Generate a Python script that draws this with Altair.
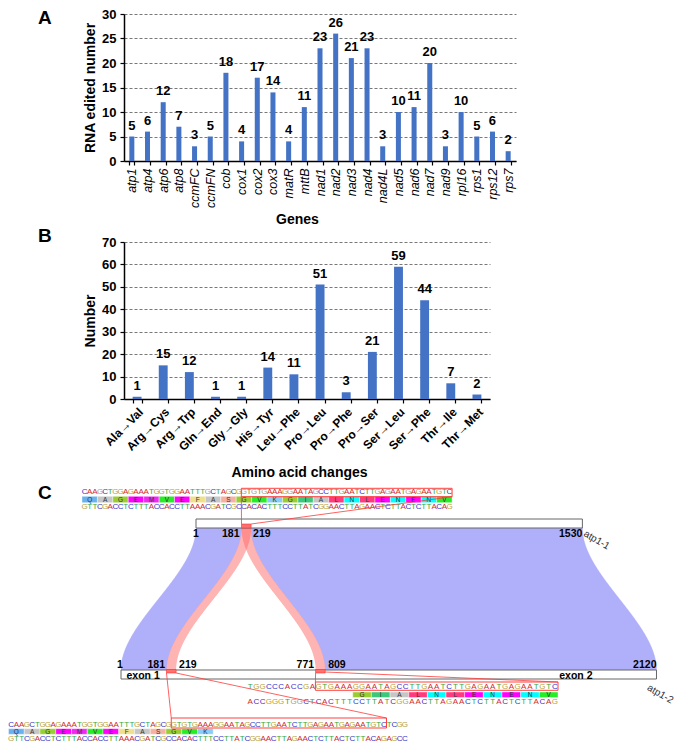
import altair as alt
import pandas as pd
import numpy as np

FONT = "Liberation Sans"
BAR = "#4472C4"

# ---------------- data ----------------
genes = ["atp1", "atp4", "atp6", "atp8", "ccmFC", "ccmFN", "cob", "cox1", "cox2", "cox3",
         "matR", "mttB", "nad1", "nad2", "nad3", "nad4", "nad4L", "nad5", "nad6", "nad7",
         "nad9", "rpl16", "rps1", "rps12", "rps7"]
gene_counts = [5, 6, 12, 7, 3, 5, 18, 4, 17, 14, 4, 11, 23, 26, 21, 23, 3, 10, 11, 20, 3, 10, 5, 6, 2]

aa_changes = ["Ala→Val", "Arg→Cys", "Arg→Trp", "Gln→End", "Gly→Gly", "His→Tyr", "Leu→Phe",
              "Pro→Leu", "Pro→Phe", "Pro→Ser", "Ser→Leu", "Ser→Phe", "Thr→Ile", "Thr→Met"]
aa_counts = [1, 15, 12, 1, 1, 14, 11, 51, 3, 21, 59, 44, 7, 2]

# panel C: transcripts and aligned blocks (bp)
top_len = 1530          # atp1-1
bot_len = 2120          # atp1-2
link_top_start = [1, 219, 181, 181]
link_top_end = [181, 1530, 219, 219]
link_bot_start = [1, 809, 181, 771]
link_bot_end = [181, 2120, 219, 809]
link_kind = ["match", "match", "edit", "edit"]

seq1 = "CAAGCTGGAGAAATGGTGGAATTTGCTAGCGGTGTGAAAGGAATAGCCTTGAATCTTGAGAATGAGAATGTC"
comp1 = "GTTCGACCTCTTTACCACCTTAAACGATCGCCACACTTTCCTTATCGGAACTTAGAACTCTTACTCTTACAG"
aa1 = "QAGEMVEFASGVKGIALNLENENV"
seq2 = "TGGCCCACCGAGTGAAAGGAATAGCCTTGAATCTTGAGAATGAGAATGTC"
comp2 = "ACCGGGTGGCTCACTTTCCTTATCGGAACTTAGAACTCTTACTCTTACAG"
aa2 = "GIALNLENENV"
seq3 = "CAAGCTGGAGAAATGGTGGAATTTGCTAGCGGTGTGAAAGGAATAGCCTTGAATCTTGAGAATGAGAATGTCTCGG"
comp3 = "GTTCGACCTCTTTACCACCTTAAACGATCGCCACACTTTCCTTATCGGAACTTAGAACTCTTACTCTTACAGAGCC"
aa3 = "QAGEMVEFASGVK"

nuc_domain = ["A", "C", "G", "T"]
nuc_colors = ["#D02A2A", "#3535C8", "#B9A13A", "#36A843"]
aa_domain = ["Q", "A", "G", "E", "M", "V", "F", "S", "K", "I", "L", "N"]
aa_colors = ["#6AB2EE", "#C6C6C6", "#9ACD32", "#FF00FF", "#F028F0", "#26EE26",
             "#EEE08C", "#F7B1A2", "#8ACCF8", "#3CC87A", "#FF3B7F", "#00FFFF"]

LEFT = 116   # room left of the bar-chart plot areas


def one():
    return alt.Data(values=[{"k": 1}])


def panel_letter(letter, y):
    return alt.Chart(one()).mark_text(
        text=letter, font=FONT, fontSize=19, fontWeight="bold", align="left",
        baseline="top", color="black").encode(x=alt.value(-86), y=alt.value(y))


def bounds_box(y0, y1):
    # invisible frame that fixes each panel's extent in the stacked layout
    return alt.Chart(one()).mark_rect(opacity=0).encode(
        x=alt.value(-LEFT), x2=alt.value(553), y=alt.value(y0), y2=alt.value(y1))


def y_axis(title, values):
    return alt.Axis(
        title=title, values=values, grid=True, gridDash=[3, 2], gridColor="#555555",
        gridWidth=0.8, domainColor="black", domainWidth=1.5, tickColor="black",
        tickSize=4, tickWidth=1.2, labelFont=FONT, labelFontWeight="bold",
        labelFontSize=13, labelColor="black", labelPadding=4, titleFont=FONT,
        titleFontSize=14, titleFontWeight="bold", titleColor="black", titlePadding=4)


# ---------------- panel A ----------------
W_A, H_A = 392, 147
dfA = pd.DataFrame({"gene": genes, "n": gene_counts})
xA = alt.X("gene:N", sort=genes,
           scale=alt.Scale(paddingInner=0.68, paddingOuter=0.34),
           axis=alt.Axis(title="Genes", labelAngle=-90, labelAlign="right",
                         labelBaseline="middle", labelFont=FONT, labelFontStyle="italic",
                         labelFontSize=12.5, labelColor="black", labelPadding=3,
                         tickBand="extent", tickSize=4, tickColor="black", tickWidth=1.2,
                         domainColor="black", domainWidth=1.5, titleFont=FONT,
                         titleFontSize=14, titleFontWeight="bold", titleColor="black",
                         titleX=173, titleY=58, titleBaseline="middle"))
yA = alt.Y("n:Q", scale=alt.Scale(domain=[0, 30], nice=False),
           axis=y_axis("RNA edited number", [0, 5, 10, 15, 20, 25, 30]))
baseA = alt.Chart(dfA).encode(x=xA, y=yA)
barsA = baseA.mark_bar(color=BAR)
textA = baseA.mark_text(font=FONT, fontSize=13, fontWeight="bold", color="black",
                        baseline="alphabetic", dy=-7).encode(text="n:Q")
chartA = alt.layer(bounds_box(-5, 213), barsA, textA, panel_letter("A", -5)).properties(
    width=W_A, height=H_A)

# ---------------- panel B ----------------
W_B, H_B = 366, 157
dfB = pd.DataFrame({"change": aa_changes, "n": aa_counts})
xB = alt.X("change:N", sort=aa_changes,
           scale=alt.Scale(paddingInner=0.66, paddingOuter=0.33),
           axis=alt.Axis(title="Amino acid changes", labelAngle=-45, labelFont=FONT,
                         labelFontWeight="bold", labelFontSize=12, labelColor="black",
                         labelPadding=3, tickBand="extent", tickSize=4, tickColor="black",
                         tickWidth=1.2, domainColor="black", domainWidth=1.5,
                         titleFont=FONT, titleFontSize=14, titleFontWeight="bold",
                         titleColor="black", titleX=175, titleY=73, titleBaseline="middle"))
yB = alt.Y("n:Q", scale=alt.Scale(domain=[0, 70], nice=False),
           axis=y_axis("Number", [0, 10, 20, 30, 40, 50, 60, 70]))
baseB = alt.Chart(dfB).encode(x=xB, y=yB)
barsB = baseB.mark_bar(color=BAR)
textB = baseB.mark_text(font=FONT, fontSize=13, fontWeight="bold", color="black",
                        baseline="alphabetic", dy=-7).encode(text="n:Q")
chartB = alt.layer(bounds_box(-15, 239), barsB, textB, panel_letter("B", -15)).properties(
    width=W_B, height=H_B)

# ---------------- panel C ----------------
# diagram units: 1 unit = 1 px, 0 = left edge of the figure area
CW, CH = 669, 265
PX = 0.2527            # diagram units per bp
TOP_X0, BOT_X0 = 188, 113
TOP_BAR = (38, 47)
BOT_BAR = (189, 198)


def top_px(bp):
    return TOP_X0 + (bp - 1) * PX


def bot_px(bp):
    return BOT_X0 + (bp - 1) * PX


xs = alt.Scale(domain=[LEFT, CW], nice=False, zero=False)
ys = alt.Scale(domain=[0, CH], nice=False, zero=False, reverse=True)
XC = lambda f="x": alt.X(f"{f}:Q", scale=xs, axis=None)
YC = lambda f="y": alt.Y(f"{f}:Q", scale=ys, axis=None)

# ribbons drawn as thin horizontal slices
NS = 142
edges = np.linspace(0, 1, NS + 1)
rib = []
for k in range(len(link_kind)):
    xl0, xr0 = top_px(link_top_start[k]), top_px(link_top_end[k])
    xl1, xr1 = bot_px(link_bot_start[k]), bot_px(link_bot_end[k])
    for j in range(NS):
        tm = (edges[j] + edges[j + 1]) / 2
        sm = 3 * tm ** 2 - 2 * tm ** 3
        rib.append({"id": k, "kind": link_kind[k],
                    "y": TOP_BAR[1] + (BOT_BAR[0] - TOP_BAR[1]) * edges[j],
                    "y2": TOP_BAR[1] + (BOT_BAR[0] - TOP_BAR[1]) * edges[j + 1],
                    "xl": xl0 + (xl1 - xl0) * sm, "xr": xr0 + (xr1 - xr0) * sm})
rib = pd.DataFrame(rib)
blue = alt.Chart(rib[rib.kind == "match"]).mark_rect(
    color="#B0B0FA", opacity=1, stroke="#B0B0FA", strokeWidth=0.3).encode(
    y=YC("y"), y2=alt.Y2("y2:Q"), x=XC("xl"), x2=alt.X2("xr:Q"))
red = alt.Chart(rib[rib.kind == "edit"]).mark_rect(
    color="#FF6A6A", opacity=0.5).encode(
    y=YC("y"), y2=alt.Y2("y2:Q"), x=XC("xl"), x2=alt.X2("xr:Q"))

# transcript bars
bars = pd.DataFrame({
    "x": [top_px(1), bot_px(1)], "x2": [top_px(top_len), bot_px(bot_len)],
    "y": [TOP_BAR[0], BOT_BAR[0]], "y2": [TOP_BAR[1], BOT_BAR[1]]})
tbars = alt.Chart(bars).mark_rect(fill="white", stroke="#666666", strokeWidth=1).encode(
    x=XC("x"), x2=alt.X2("x2:Q"), y=YC("y"), y2=alt.Y2("y2:Q"))

hl = pd.DataFrame({
    "x": [top_px(181), bot_px(181), bot_px(771)],
    "x2": [top_px(219), bot_px(219), bot_px(809)],
    "y": [43, 188.5, 188.5], "y2": [47, 192, 192]})
hlm = alt.Chart(hl).mark_rect(fill="#FF7070", stroke="#FF3030", strokeWidth=0.6).encode(
    x=XC("x"), x2=alt.X2("x2:Q"), y=YC("y"), y2=alt.Y2("y2:Q"))

# sequence rows
rows = [
    (seq1, comp1, aa1, 0, 74, 5.14, 11, (15.3, 21.7), 26.2, 31, 72, (7.3, 15.7)),
    (seq2, comp2, aa2, 17, 239, 6.22, 205.5, (211, 216.5), 220.5, 11, 50, (201, 209.3)),
    (seq3, comp3, aa3, 0, 0.5, 5.25, 243.7, (247.7, 253.3), 258.2, 31, 72, (237, 247)),
]
letters, boxes, redboxes = [], [], []
for seq, comp, aa, a0, x0, step, yd, yb, yc, b0, b1, by in rows:
    for i, ch in enumerate(seq):
        letters.append({"x": x0 + (i + 0.5) * step, "y": yd, "ch": ch})
    for i, ch in enumerate(comp):
        letters.append({"x": x0 + (i + 0.5) * step, "y": yc, "ch": ch})
    for i, ch in enumerate(aa):
        xa = x0 + (a0 + 3 * i) * step
        boxes.append({"x": xa, "x2": xa + 3 * step, "xc": xa + 1.5 * step,
                      "y": yb[0], "y2": yb[1], "yc": (yb[0] + yb[1]) / 2, "aa": ch})
    redboxes.append({"x": x0 + b0 * step, "x2": x0 + b1 * step, "y": by[0], "y2": by[1]})
letters = pd.DataFrame(letters)
boxes = pd.DataFrame(boxes)
redboxes = pd.DataFrame(redboxes)

lettm = alt.Chart(letters).mark_text(font=FONT, fontSize=8, baseline="middle").encode(
    x=XC("x"), y=YC("y"), text="ch:N",
    color=alt.Color("ch:N", scale=alt.Scale(domain=nuc_domain, range=nuc_colors), legend=None))
boxm = alt.Chart(boxes).mark_rect(stroke="white", strokeWidth=0.4).encode(
    x=XC("x"), x2=alt.X2("x2:Q"), y=YC("y"), y2=alt.Y2("y2:Q"),
    fill=alt.Fill("aa:N", scale=alt.Scale(domain=aa_domain, range=aa_colors), legend=None))
boxt = alt.Chart(boxes).mark_text(font=FONT, fontSize=6.5, color="#333333", baseline="middle").encode(
    x=XC("xc"), y=YC("yc"), text="aa:N")
redbm = alt.Chart(redboxes).mark_rect(fillOpacity=0, stroke="#FF4040", strokeWidth=1).encode(
    x=XC("x"), x2=alt.X2("x2:Q"), y=YC("y"), y2=alt.Y2("y2:Q"))

rb = redboxes
lines = pd.DataFrame({
    "x": [top_px(181), top_px(219), bot_px(181), bot_px(219), bot_px(771), bot_px(809)],
    "y": [43, 43, 192, 192, 192, 191],
    "x2": [rb.x[0], rb.x2[0], rb.x[2], rb.x2[2], rb.x[1], rb.x2[1]],
    "y2": [rb.y2[0], rb.y2[0], rb.y[2], rb.y[2], rb.y[1], rb.y[1]]})
linem = alt.Chart(lines).mark_rule(color="#FF3A3A", strokeWidth=0.8).encode(
    x=XC("x"), y=YC("y"), x2=alt.X2("x2:Q"), y2=alt.Y2("y2:Q"))


def pos_labels(df, align):
    return alt.Chart(df).mark_text(font=FONT, fontSize=10.5, fontWeight="bold", color="black",
                                   align=align, baseline="alphabetic").encode(
        x=XC("x"), y=YC("y"), text="t:N")


lab_r = pd.DataFrame({
    "x": [top_px(181) - 2, top_px(1530), bot_px(181) - 1.5, bot_px(771) - 1.5, bot_px(2120)],
    "y": [56, 56, 186.5, 186.5, 186.5],
    "t": ["181", "1530", "181", "771", "2120"]})
lab_l = pd.DataFrame({
    "x": [top_px(219) + 2, bot_px(219) + 3, bot_px(809) + 3],
    "y": [56, 186.5, 186.5], "t": ["219", "219", "809"]})
lab_c = pd.DataFrame({"x": [top_px(1), bot_px(1) - 1], "y": [56, 186.5], "t": ["1", "1"]})

exon = pd.DataFrame({"x": [bot_px(1) + 5.5, bot_px(bot_len) - 64], "y": [197.5, 197.5],
                     "t": ["exon 1", "exon 2"], "a": ["l", "r"]})
exl = alt.Chart(exon[exon.a == "l"]).mark_text(font=FONT, fontSize=10.5, fontWeight="bold",
                                               align="left", baseline="alphabetic").encode(
    x=XC("x"), y=YC("y"), text="t:N")
exr = alt.Chart(exon[exon.a == "r"]).mark_text(font=FONT, fontSize=10.5, fontWeight="bold",
                                               align="right", baseline="alphabetic").encode(
    x=XC("x"), y=YC("y"), text="t:N")

names = pd.DataFrame({"x": [top_px(top_len) + 2, 640], "y": [52, 206],
                      "t": ["atp1-1", "atp1-2"]})
namem = alt.Chart(names).mark_text(font=FONT, fontSize=10, color="#333333", align="left",
                                   baseline="middle", angle=30).encode(
    x=XC("x"), y=YC("y"), text="t:N")

letterC = alt.Chart(pd.DataFrame({"x": [30], "y": [3], "t": ["C"]})).mark_text(
    font=FONT, fontSize=19, fontWeight="bold", align="left",
    baseline="top", color="black").encode(x=XC("x"), y=YC("y"), text="t:N")

chartC = alt.layer(
    blue, red, tbars, hlm, boxm, boxt, lettm, redbm, linem,
    pos_labels(lab_r, "right"), pos_labels(lab_l, "left"), pos_labels(lab_c, "center"),
    exl, exr, namem, letterC
).resolve_scale(color="independent", fill="independent").properties(
    width=CW - LEFT, height=CH)

chart = alt.vconcat(chartA, chartB, chartC, spacing=0).properties(
    padding={"left": 0, "top": 0, "right": 0, "bottom": 0}).configure(
    font=FONT).configure_view(stroke=None)

chart.save("out.html", embed_options={"renderer": "svg", "actions": False})
